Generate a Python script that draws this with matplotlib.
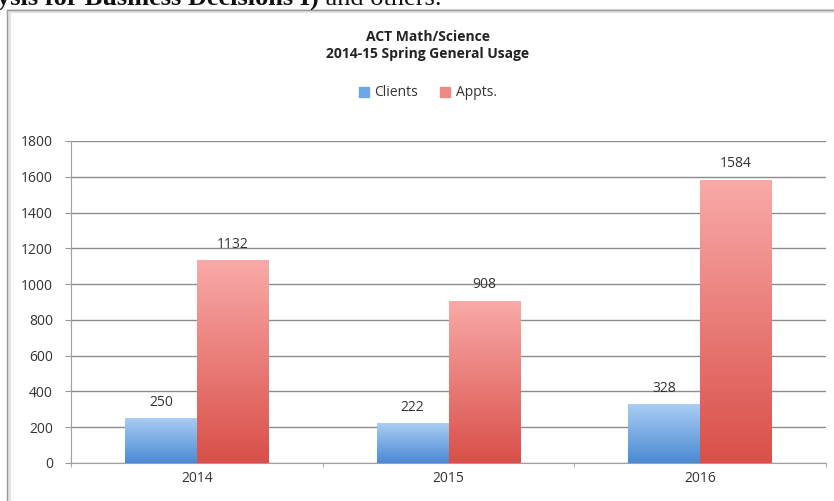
#import modules
import numpy as np
import matplotlib
matplotlib.use("Agg")
import matplotlib.pyplot as plt
from matplotlib.colors import LinearSegmentedColormap
from matplotlib.patches import Rectangle
from matplotlib.text import Annotation

#chart data
years = ["2014", "2015", "2016"]
clients = [250, 222, 328]
appts = [1132, 908, 1584]
series_names = ["Clients", "Appts."]
yticks = [0, 200, 400, 600, 800, 1000, 1200, 1400, 1600, 1800]

plt.rcParams["font.family"] = ["Open Sans", "DejaVu Sans"]

fig = plt.figure(figsize=(8.34, 5.01), dpi=100)
fig.patch.set_facecolor("white")

#page text cut off at the top and the frame around the chart
head = fig.text(-0.003, 1 - 5 / 501, "ysis for Business Decisions I)", family="Liberation Serif",
                weight="bold", fontsize=19, va="baseline", ha="left", color="#111111")
fig.add_artist(Annotation(" and others.", xy=(1, 0), xycoords=head,
                          va="bottom", ha="left", family="Liberation Serif",
                          fontsize=19, color="#111111"))
fig.patches.append(Rectangle((9 / 834, -0.02), 1.0, 1.02 - 11 / 501,
                             transform=fig.transFigure, fill=False,
                             edgecolor="#e4e4e4", linewidth=3, zorder=0))
fig.patches.append(Rectangle((7 / 834, -0.02), 1.0, 1.02 - 10 / 501,
                             transform=fig.transFigure, fill=False,
                             edgecolor="#9a9a9a", linewidth=1, zorder=1))

ax = fig.add_axes([71 / 834, 38 / 501, 755 / 834, 322 / 501])

x = np.arange(len(years))
w = 0.286
b1 = ax.bar(x - w / 2, clients, w, color="#7fb2e8", label=series_names[0], zorder=2)
b2 = ax.bar(x + w / 2, appts, w, color="#eb7f7b", label=series_names[1], zorder=2)

#vertical gradient on each bar, clipped to the bar shape
blue_cm = LinearSegmentedColormap.from_list("b", ["#4a8ad3", "#a9cdf3"])
red_cm = LinearSegmentedColormap.from_list("r", ["#d94f49", "#f9aaa8"])
grad = np.linspace(0, 1, 256).reshape(-1, 1)
for bars, cm in [(b1, blue_cm), (b2, red_cm)]:
    for bar in bars:
        bx, by = bar.get_x(), bar.get_y()
        bw, bh = bar.get_width(), bar.get_height()
        im = ax.imshow(grad, cmap=cm, origin="lower", aspect="auto",
                       extent=[bx, bx + bw, by, by + bh], zorder=3)
        im.set_clip_path(bar)

#value labels
for bars, vals in [(b1, clients), (b2, appts)]:
    for bar, v in zip(bars, vals):
        ax.annotate(str(v), (bar.get_x() + bar.get_width() / 2, v),
                    xytext=(0, 6), textcoords="offset points",
                    ha="center", va="bottom", fontsize=10, color="#333333")

ax.set_xlim(-0.5, len(years) - 0.5)
ax.set_ylim(0, 1800)
ax.set_yticks(yticks)
ax.set_yticklabels([str(t) for t in yticks], fontsize=10, color="#333333")
ax.set_xticks(x)
ax.set_xticklabels(years, fontsize=10, color="#333333")
ax.set_xticks(np.arange(len(years) + 1) - 0.5, minor=True)
ax.tick_params(axis="x", which="major", length=0, pad=6)
ax.tick_params(axis="x", which="minor", length=3, color="#999999")
ax.tick_params(axis="y", length=4, color="#999999", pad=9)
ax.yaxis.grid(True, color="#8c8c8c", linewidth=1)
ax.set_axisbelow(True)
for s in ["top", "right"]:
    ax.spines[s].set_visible(False)
for s in ["left", "bottom"]:
    ax.spines[s].set_color("#a0a0a0")

#title and legend
fig.text(428 / 834, 1 - 37 / 501, "ACT Math/Science", ha="center", va="center",
         fontsize=10, weight="bold", color="#222222")
fig.text(428 / 834, 1 - 54 / 501, "2014-15 Spring General Usage", ha="center", va="center",
         fontsize=10, weight="bold", color="#222222")
fig.legend(handles=[Rectangle((0, 0), 1, 1, color="#6fa6e4"),
                    Rectangle((0, 0), 1, 1, color="#ee8a86")],
           labels=series_names, loc="center", bbox_to_anchor=(428 / 834, 1 - 93 / 501),
           ncol=2, frameon=False, fontsize=10, handlelength=0.7, handleheight=0.7,
           handletextpad=0.4, columnspacing=1.6, labelcolor="#333333")

fig.savefig("out.png", dpi=100)
